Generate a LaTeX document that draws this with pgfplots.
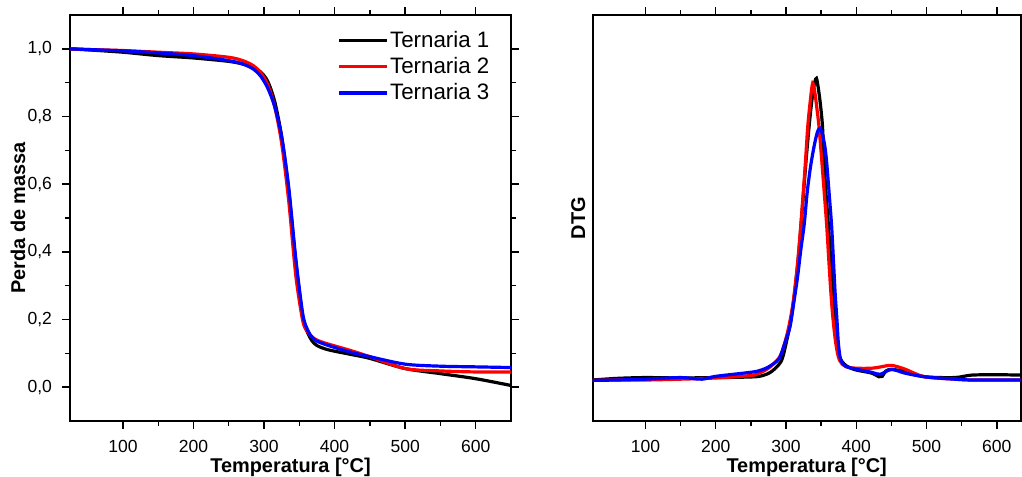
\documentclass[border=0pt]{standalone}
\usepackage{fontspec}
\setmainfont{Liberation Sans}
\usepackage{pgfplots}
\pgfplotsset{compat=1.18}

\pgfplotsset{
  tga/.style={
    scale only axis,
    xmin=25, xmax=650,
    xtick={100,200,300,400,500,600},
    minor x tick num=1,
    tick align=outside,
    major tick length=4bp,
    minor tick length=2.5bp,
    axis line style={line width=0.9bp},
    every tick/.style={line width=0.7bp, black},
    tick label style={font=\fontsize{8.8}{10}\selectfont},
    xticklabel style={yshift=-2bp},
    yticklabel style={xshift=-1.5bp},
    /pgf/number format/assume math mode=true,
    label style={font=\fontsize{10}{12}\selectfont\bfseries},
    xlabel={Temperatura [°C]},
    xlabel style={at={(rel axis cs:0.5,-0.128)}, anchor=base},
    every axis plot/.append style={line width=1.6bp, smooth},
  }
}

\begin{document}
\begin{tikzpicture}
\path[use as bounding box] (0,0) rectangle (511bp,238.5bp);

% --- TGA ---
\begin{axis}[tga,
  at={(35bp,28bp)}, anchor=south west,
  width=220.5bp, height=203bp,
  ymin=-0.1, ymax=1.1,
  ytick={0,0.2,0.4,0.6,0.8,1.0},
  minor y tick num=1,
  yticklabel style={/pgf/number format/.cd, fixed, fixed zerofill, precision=1, use comma},
  ylabel={Perda de massa},
  ylabel style={at={(rel axis cs:-0.118,0.5)}, anchor=center},
  legend cell align=left,
  legend style={draw=none, fill=none, at={(rel axis cs:0.968,0.975)}, anchor=north east,
    font=\fontsize{11.2}{12}\selectfont, row sep=2.0bp,
    nodes={inner sep=0.6bp, text height=8.3bp, text depth=1.6bp}},
  legend image code/.code={\draw[#1, sharp plot] (0bp,0bp) -- (24bp,0bp);},
]
\addplot[black] coordinates {
(25,1.000) (50,0.997) (100,0.990) (150,0.980) (200,0.973) (250,0.963) (270,0.955)
(285,0.945) (295,0.932) (305,0.905) (315,0.845) (325,0.74) (335,0.58) (345,0.37)
(355,0.205) (362,0.16) (368,0.137) (375,0.123) (390,0.111) (420,0.098) (450,0.085)
(500,0.055) (550,0.040) (600,0.025) (650,0.005)
};
\addlegendentry{Ternaria 1}
\addplot[red] coordinates {
(25,1.000) (50,0.998) (100,0.995) (150,0.990) (200,0.985) (250,0.975) (270,0.965)
(285,0.950) (295,0.930) (305,0.895) (315,0.830) (325,0.72) (335,0.55) (345,0.33)
(355,0.195) (362,0.163) (368,0.149) (375,0.139) (390,0.128) (420,0.110) (450,0.090)
(500,0.055) (550,0.048) (600,0.045) (650,0.045)
};
\addlegendentry{Ternaria 2}
\addplot[blue] coordinates {
(25,1.000) (50,0.998) (100,0.994) (150,0.988) (200,0.980) (250,0.965) (270,0.955)
(285,0.940) (295,0.920) (305,0.885) (315,0.830) (325,0.74) (335,0.59) (345,0.38)
(355,0.215) (362,0.168) (368,0.148) (375,0.136) (390,0.124) (420,0.105) (450,0.090)
(500,0.068) (550,0.062) (600,0.060) (650,0.058)
};
\addlegendentry{Ternaria 3}
\end{axis}

% --- DTG ---
\begin{axis}[tga,
  at={(296.35bp,28bp)}, anchor=south west,
  width=214bp, height=203bp,
  xmax=634,
  ymin=0, ymax=100,
  ytick=\empty,
  ylabel={DTG},
  ylabel style={at={(rel axis cs:-0.034,0.5)}, anchor=center},
]
\addplot[black] coordinates {
(25,10.1) (60,10.5) (100,10.7) (150,10.6) (200,10.7) (240,10.8) (262,11.0) (276,11.8)
(285,13.0) (294,15.0) (300,19.0) (306,24.0) (312,31.0) (318,41.0) (324,54.0)
(329,65.0) (334,74.5) (338,80.5) (341,83.5) (343.4,84.4) (346,82.0) (349,78.0)
(352,72.5) (354,64.3) (357,56.0) (360.5,47.9) (364,39.0) (367,31.4) (371,22.0)
(376,16.0) (385,13.7) (399,12.6) (422,11.8) (432,10.9) (437,11.0) (442,12.3)
(450,12.7) (469,12.2) (497,10.9) (540,10.7) (564,11.3) (600,11.4) (634,11.3)
};
\addplot[red] coordinates {
(25,10.0) (60,10.1) (100,10.1) (150,10.3) (200,10.6) (250,11.2) (262,11.8) (275,13.0)
(290,15.5) (297,18.5) (304,23.2) (310,29.0) (316,38.0) (321,48.0) (327,62.0)
(331,72.5) (335,79.5) (338,83.2) (341,81.0) (344,77.0) (347,72.5) (351,64.0)
(355,55.0) (358,48.0) (361,39.5) (364,31.4) (367,25.0) (371,19.0) (376,15.0)
(385,13.4) (400,13.0) (422,13.0) (434,13.3) (450,13.7) (469,12.8)
(497,10.9) (540,10.3) (564,10.1) (600,10.1) (634,10.1)
};
\addplot[blue] coordinates {
(25,10.0) (60,10.1) (100,10.3) (150,10.7) (180,10.3) (200,11.0) (250,12.0) (262,12.4)
(275,13.3) (290,15.3) (298,19.0) (305.7,23.2) (311,29.0) (316.5,35.5) (321,42.0)
(326,48.5) (330,56.0) (334,61.5) (337,64.8) (341,68.5) (345,71.3) (348.7,72.1)
(352,70.5) (355,68.0) (357.6,64.3) (361,57.0) (365,47.9) (368,38.0) (370,31.4)
(372.5,25.0) (374.6,19.1) (378,15.0) (385,13.5) (399,12.8) (422,12.0) (434,11.5)
(450,12.7) (469,11.8) (497,10.9) (540,10.3) (564,10.1) (600,10.1) (634,10.1)
};
\end{axis}
\end{tikzpicture}
\end{document}
